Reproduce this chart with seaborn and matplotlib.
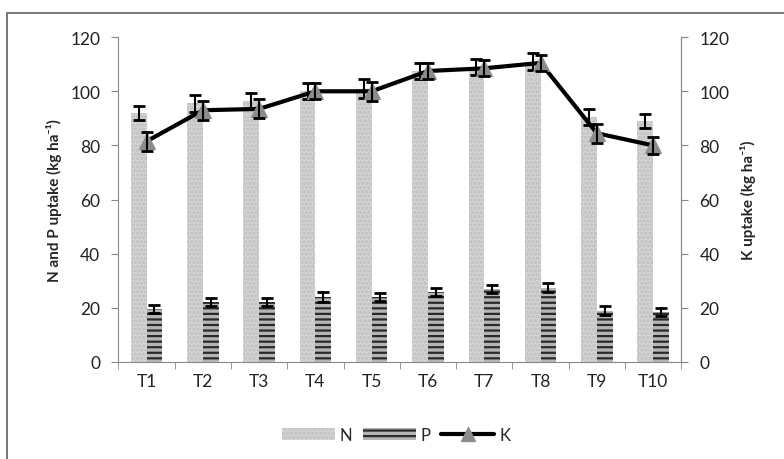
import numpy as np
import pandas as pd
import matplotlib.pyplot as plt
import seaborn as sns
from matplotlib.lines import Line2D
from matplotlib.patches import Patch, Rectangle

# Data
treatments = ['T1', 'T2', 'T3', 'T4', 'T5', 'T6', 'T7', 'T8', 'T9', 'T10']
n_uptake = [92, 95.5, 96.5, 100, 101, 107.5, 109, 111, 90.5, 89]
n_err = [2.5, 3, 3, 3, 3.5, 3, 3, 3, 3, 2.5]
p_uptake = [19.5, 22, 22, 24, 24, 26, 27, 27.5, 19, 18.5]
p_err = [1.5, 1.5, 1.5, 2, 1.5, 1.5, 1.5, 1.5, 1.5, 1.5]
k_uptake = [81.5, 93, 93.5, 100, 100, 107.5, 108.5, 110.5, 84.5, 80]
k_err = [3.5, 3.5, 3.5, 3, 3.5, 3, 3, 3, 3.5, 3]

df = pd.DataFrame({
    'Treatment': treatments * 2,
    'Nutrient': ['N'] * 10 + ['P'] * 10,
    'Uptake': n_uptake + p_uptake,
    'Err': n_err + p_err,
})

sns.set_style('white')
plt.rcParams['font.family'] = ['Lato', 'DejaVu Sans']
plt.rcParams['hatch.linewidth'] = 1.6

fig = plt.figure(figsize=(7.84, 4.6), dpi=100)
ax = fig.add_axes([0.151, 0.211, 0.718, 0.706])

sns.barplot(data=df, x='Treatment', y='Uptake', hue='Nutrient',
            palette={'N': '#d3d3d3', 'P': '#b5b5b5'}, width=0.56,
            errorbar=None, legend=False, ax=ax)

# style bars and add error bars
for cont, nut in zip(ax.containers, ['N', 'P']):
    errs = n_err if nut == 'N' else p_err
    vals = n_uptake if nut == 'N' else p_uptake
    xs = []
    for bar in cont:
        bar.set_linewidth(0)
        if nut == 'P':
            bar.set_hatch('---')
            bar.set_edgecolor('#2a2a2a')
        else:
            bar.set_hatch('....')
            bar.set_edgecolor('#c0c0c0')
        xs.append(bar.get_x() + bar.get_width() / 2)
    ax.errorbar(xs, vals, yerr=errs, fmt='none', ecolor='black',
                elinewidth=1.5, capsize=4, capthick=2, zorder=5)

ax.set_ylim(0, 120)
ax.set_yticks(range(0, 121, 20))
ax.set_xlim(-0.5, 9.5)
ax.set_xlabel('')
ax.set_ylabel('N and P uptake (kg ha⁻¹)', fontsize=11, fontweight='bold', labelpad=6)
ax.tick_params(axis='both', labelsize=12.5, colors='#222222')
ax.tick_params(axis='x', length=0, pad=8)
ax.set_xticks(np.arange(-0.5, 10, 1), minor=True)
ax.tick_params(axis='x', which='minor', length=5, color='#888888', direction='out', bottom=True)
ax.tick_params(axis='y', length=5, color='#888888', direction='out', left=True, pad=8)
ax.spines['top'].set_visible(False)
for s in ['left', 'bottom', 'right']:
    ax.spines[s].set_color('#888888')

ax2 = ax.twinx()
sns.lineplot(x=treatments, y=k_uptake, color='black', linewidth=3,
             marker='^', markersize=12, markerfacecolor='#8c8c8c',
             markeredgecolor='#8c8c8c', ax=ax2, zorder=4)
ax2.errorbar(range(len(treatments)), k_uptake, yerr=k_err, fmt='none',
             ecolor='black', elinewidth=1.5, capsize=4, capthick=2, zorder=6)
ax2.set_ylim(0, 120)
ax2.set_yticks(range(0, 121, 20))
ax2.set_ylabel('K uptake (kg ha⁻¹)', fontsize=11, fontweight='bold', labelpad=8)
ax2.tick_params(axis='y', labelsize=12.5, colors='#222222', length=5,
                direction='out', right=True, pad=8)
ax2.tick_params(axis='y', color='#888888')
for s in ['top', 'left', 'bottom']:
    ax2.spines[s].set_visible(False)
ax2.spines['right'].set_color('#888888')

handles = [
    Patch(facecolor='#d3d3d3', edgecolor='#c0c0c0', hatch='....', linewidth=0, label='N'),
    Patch(facecolor='#b5b5b5', edgecolor='#2a2a2a', hatch='---', linewidth=0, label='P'),
    Line2D([0], [0], color='black', linewidth=3, marker='^', markersize=10,
           markerfacecolor='#8c8c8c', markeredgecolor='#8c8c8c', label='K'),
]
fig.legend(handles=handles, loc='center', bbox_to_anchor=(0.505, 0.052), ncol=3,
           frameon=False, fontsize=12, handlelength=3.2, columnspacing=0.6,
           handletextpad=0.3)

# outer frame: only top and left edges are visible in the reference
fig.patches.append(Rectangle((0.009, -0.05), 1.2, 1.02, transform=fig.transFigure,
                             fill=False, edgecolor='#777777', linewidth=1.4))

plt.savefig('out.png', dpi=100)
plt.close()
